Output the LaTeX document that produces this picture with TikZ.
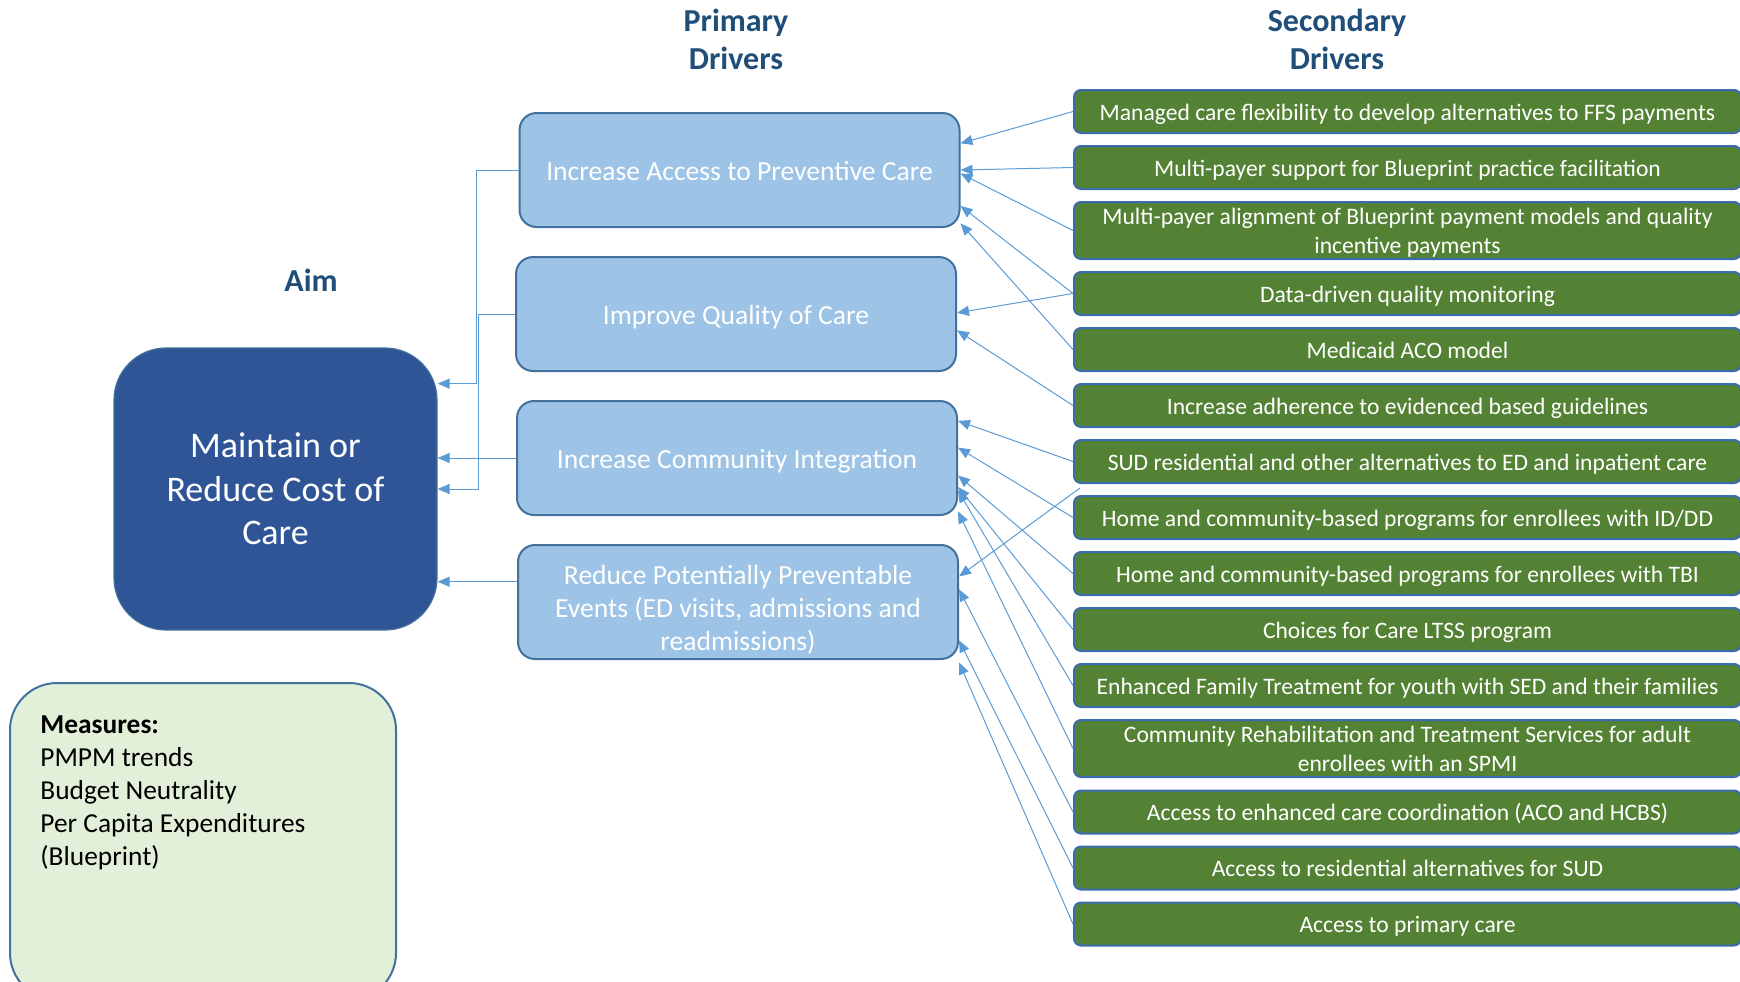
\documentclass[tikz,border=0pt]{standalone}
\usepackage{fontspec}
\setmainfont{Carlito}
\usetikzlibrary{arrows.meta,calc}
\definecolor{aimColor}{HTML}{2F5597}
\definecolor{primaryColor}{HTML}{9DC3E6}
\definecolor{secondaryColor}{HTML}{548235}
\definecolor{measuresColor}{HTML}{E2F0D9}
\definecolor{borderColor}{HTML}{41719C}
\definecolor{secondaryBorderColor}{HTML}{3B6BB0}
\definecolor{headerColor}{HTML}{1F4E79}
\definecolor{arrowColor}{HTML}{5B9BD5}
\tikzstyle{driverDiagram} = [x = .5pt, y = -.5pt]
\tikzstyle{headerText} = [color=headerColor, font=\fontsize{16}{19}\selectfont\bfseries, align=center]
\tikzstyle{aimBox} = [fill=aimColor, draw=borderColor, line width=.6pt, rounded corners=26pt, minimum width=161.5pt, minimum height=141pt, text=white, align=center, font=\fontsize{18}{21.7}\selectfont]
\tikzstyle{primaryBox} = [fill=primaryColor, draw=borderColor, line width=1pt, rounded corners=8.5pt, minimum width=220pt, minimum height=57pt, inner ysep=1pt, text=white, align=center, font=\fontsize{13.8}{16.4}\selectfont]
\tikzstyle{secondaryBox} = [fill=secondaryColor, draw=secondaryBorderColor, line width=1pt, rounded corners=3.5pt, minimum width=333.5pt, text=white, align=center, inner sep=0pt, font=\fontsize{11.8}{14.4}\selectfont]
\tikzstyle{measuresBox} = [fill=measuresColor, draw=borderColor, line width=1pt, rounded corners=23.5pt, minimum width=193pt, minimum height=158.5pt]
\tikzstyle{measuresText} = [anchor=north west, inner sep=0pt, align=left, font=\fontsize{13.7}{16.5}\selectfont]
\tikzstyle{arrowLine} = [color=arrowColor, line width=.5pt, -{Triangle[length=6pt, width=5pt]}]
\newcommand{\textStrut}[1]{\rule{0pt}{.95em}#1\rule[-.22em]{0pt}{.22em}}
\newcommand{\primaryDriver}[4]{\node [primaryBox] (#1) at (#2, #3) {\textStrut{#4}};}
\newcommand{\secondaryDriver}[4][21.5pt]{\node [secondaryBox, minimum height=#1] (#2) at (1407.5, #3) {\textStrut{#4}};}
\newcommand{\driverArrow}[3]{\draw [arrowLine] (#1.west) -- ($(#2.north east)!#3!(#2.south east)$);}

\begin{document}
\begin{tikzpicture}[driverDiagram]
  \useasboundingbox (0, 0) rectangle (1740, 981);
  \clip (0, 0) rectangle (1740, 981);
  \node [headerText] (aimHeader) at (311, 280) {Aim};
  \node [headerText] (primaryHeader) at (736, 39) {Primary\\Drivers};
  \node [headerText] (secondaryHeader) at (1337, 39) {Secondary\\Drivers};
  \node [aimBox] (aim) at (275.5, 489) {Maintain or\\Reduce Cost of\\Care};
  \node [measuresBox] (measures) at (203, 841.5) {};
  \node [measuresText] (measureList) at (40, 715) {\textbf{Measures:}\\PMPM trends\\Budget Neutrality\\Per Capita Expenditures\\(Blueprint)};
  \primaryDriver{p1}{739.5}{170}{Increase Access to Preventive Care}
  \primaryDriver{p2}{736}{314}{Improve Quality of Care}
  \primaryDriver{p3}{737}{458}{Increase Community Integration}
  \primaryDriver{p4}{738}{602}{\rule{0pt}{1.35em}Reduce Potentially Preventable\\Events (ED visits, admissions and\\readmissions)}
  \secondaryDriver{s1}{111.5}{Managed care flexibility to develop alternatives to FFS payments}
  \secondaryDriver{s2}{167.5}{Multi-payer support for Blueprint practice facilitation}
  \secondaryDriver[28.5pt]{s3}{230.5}{Multi-payer alignment of Blueprint payment models and quality\\incentive payments}
  \secondaryDriver{s4}{293.5}{Data-driven quality monitoring}
  \secondaryDriver{s5}{349.5}{Medicaid ACO model}
  \secondaryDriver{s6}{405.5}{Increase adherence to evidenced based guidelines}
  \secondaryDriver{s7}{461.5}{SUD residential and other alternatives to ED and inpatient care}
  \secondaryDriver{s8}{517.5}{Home and community-based programs for enrollees with ID/DD}
  \secondaryDriver{s9}{573.5}{Home and community-based programs for enrollees with TBI}
  \secondaryDriver{s10}{629.5}{Choices for Care LTSS program}
  \secondaryDriver{s11}{685.5}{Enhanced Family Treatment for youth with SED and their families}
  \secondaryDriver[28.5pt]{s12}{748.5}{Community Rehabilitation and Treatment Services for adult\\enrollees with an SPMI}
  \secondaryDriver{s13}{812}{Access to enhanced care coordination (ACO and HCBS)}
  \secondaryDriver{s14}{868}{Access to residential alternatives for SUD}
  \secondaryDriver{s15}{924}{Access to primary care}
  \draw [arrowLine] (p1.west) -- ++(-42, 0) |- ($(aim.north east)!.128!(aim.south east)$);
  \draw [arrowLine] (p2.west) -- ++(-37, 0) |- (aim.east);
  \draw [arrowLine] (p3.west) -- (p3.west -| aim.east);
  \coordinate (p4out) at ($(p4.north west)!.325!(p4.south west)$);
  \draw [arrowLine] (p4out) -- (p4out -| aim.east);
  \driverArrow{s1}{p1}{.27}
  \driverArrow{s2}{p1}{.5}
  \driverArrow{s3}{p1}{.53}
  \driverArrow{s4}{p1}{.81}
  \driverArrow{s5}{p1}{.96}
  \driverArrow{s4}{p2}{.49}
  \driverArrow{s6}{p2}{.64}
  \driverArrow{s7}{p3}{.18}
  \driverArrow{s8}{p3}{.41}
  \driverArrow{s9}{p3}{.65}
  \driverArrow{s10}{p3}{.75}
  \driverArrow{s11}{p3}{.78}
  \driverArrow{s12}{p3}{.96}
  \draw [arrowLine] ([shift={(7, 4)}]s7.south west) -- ($(p4.north east)!.28!(p4.south east)$);
  \driverArrow{s13}{p4}{.39}
  \driverArrow{s14}{p4}{.83}
  \driverArrow{s15}{p4}{1.02}
\end{tikzpicture}
\end{document}
